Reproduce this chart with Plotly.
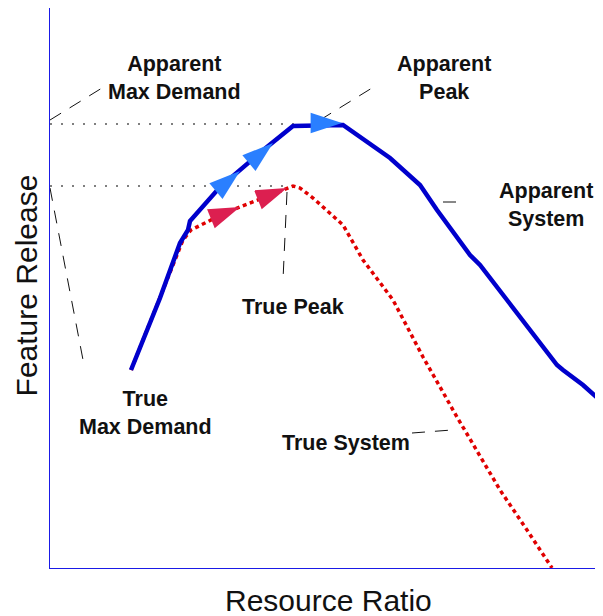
import plotly.graph_objects as go

# ---- data (arbitrary chart units; x: resource ratio, y: feature release) ----
apparent_x = [81, 110, 130, 138, 140, 170, 217, 243, 293, 310, 340, 370, 387, 420, 430, 457, 507, 513, 533, 553]
apparent_y = [198, 270, 325, 338, 347, 381, 421, 442, 443, 431, 410, 383, 358, 313, 303, 268, 203, 198, 183, 165]

true_x = [81, 110, 133, 141, 173, 190, 237, 243, 250, 263, 293, 313, 343, 373, 407, 450, 477, 502]
true_y = [198, 270, 328, 338, 354, 361, 380, 382, 380, 370, 343, 308, 268, 211, 151, 78, 38, 0]

# arrow heads (tip positions) along paths
apparent_arrow_x = [190, 223, 292]
apparent_arrow_y = [397, 425, 445]
apparent_arrow_angle = [50, 50, 90]
true_arrow_x = [190, 237]
true_arrow_y = [361, 380]
true_arrow_angle = [68, 68]

# reference levels (apparent and true max demand)
apparent_level = 444
apparent_level_end = 250
true_level = 382
true_level_end = 243

# labels: text, x, y
labels = [
    ("Apparent<br>Max Demand", 124, 490),
    ("Apparent<br>Peak", 394, 490),
    ("Apparent<br>System", 496, 363),
    ("True Peak", 243, 261),
    ("True<br>Max Demand", 95, 155),
    ("True System", 296, 125),
]

# leader lines: x0, y0, x1, y1
leaders = [
    (0, 448, 52, 480),
    (0, 380, 34, 203),
    (270, 448, 322, 480),
    (393, 366, 407, 366),
    (237, 376, 233, 288),
    (362, 135, 402, 138),
]

X_TITLE = "Resource Ratio"
Y_TITLE = "Feature Release"

X_RANGE = [0, 553]
Y_RANGE = [0, 560]

FONT = "Liberation Sans, Arial, sans-serif"

fig = go.Figure()

# dotted reference levels
for lvl, end in [(apparent_level, apparent_level_end), (true_level, true_level_end)]:
    fig.add_trace(go.Scatter(x=[0, end], y=[lvl, lvl], mode="lines",
                             line=dict(color="#555555", width=1.3, dash="2px,9px"),
                             hoverinfo="skip", showlegend=False))

# leader lines
for (x0, y0, x1, y1) in leaders:
    fig.add_trace(go.Scatter(x=[x0, x1], y=[y0, y1], mode="lines",
                             line=dict(color="#111111", width=1, dash="13px,10px"),
                             hoverinfo="skip", showlegend=False))

# true system (red dotted)
fig.add_trace(go.Scatter(x=true_x, y=true_y, mode="lines",
                         line=dict(color="#e00000", width=3.5, dash="4px,3.5px"),
                         showlegend=False, name="True System"))
# apparent system (blue solid)
fig.add_trace(go.Scatter(x=apparent_x, y=apparent_y, mode="lines",
                         line=dict(color="#0000cc", width=4.5),
                         showlegend=False, name="Apparent System"))

# arrows
fig.add_trace(go.Scatter(x=apparent_arrow_x, y=apparent_arrow_y, mode="markers",
                         marker=dict(symbol="arrow", size=33, color="#2a7fff", angle=apparent_arrow_angle,
                                     line=dict(width=0)),
                         showlegend=False, hoverinfo="skip"))
fig.add_trace(go.Scatter(x=true_arrow_x, y=true_arrow_y, mode="markers",
                         marker=dict(symbol="arrow", size=33, color="#dc1f50", angle=true_arrow_angle,
                                     line=dict(width=0)),
                         showlegend=False, hoverinfo="skip"))

for text, x, y in labels:
    fig.add_annotation(x=x, y=y, text=f"<b>{text}</b>", showarrow=False,
                       font=dict(family=FONT, size=21.5, color="#111111"),
                       xanchor="center", yanchor="middle")

# axis titles
fig.add_annotation(xref="paper", yref="paper", x=0.503, y=-0.058, text=X_TITLE, showarrow=False,
                   font=dict(family=FONT, size=30, color="#111111"), xanchor="center", yanchor="middle")
fig.add_annotation(xref="paper", yref="paper", x=-0.043, y=0.505, text=Y_TITLE, showarrow=False,
                   textangle=-90, font=dict(family=FONT, size=30, color="#111111"),
                   xanchor="center", yanchor="middle")

axis_common = dict(showgrid=False, zeroline=False, showticklabels=False, ticks="",
                   showline=True, linecolor="#1a1ae6", linewidth=1.3, automargin=False)

fig.update_layout(
    width=595, height=608,
    margin=dict(l=42, r=0, t=0, b=48, autoexpand=False),
    paper_bgcolor="white", plot_bgcolor="white",
    xaxis=dict(range=X_RANGE, **axis_common),
    yaxis=dict(range=Y_RANGE, **axis_common),
    showlegend=False,
)

fig.write_html("out.html")
